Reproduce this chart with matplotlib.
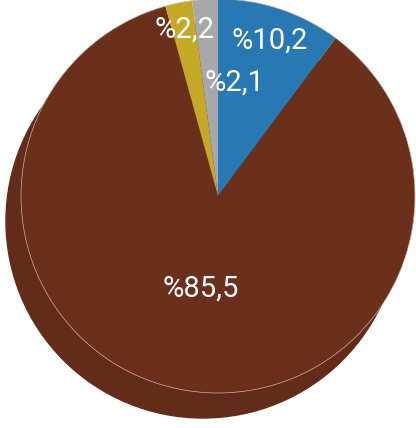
import numpy as np
import matplotlib.pyplot as plt
from matplotlib.patches import Circle

# shares, clockwise from 12 o'clock
labels = ['%10,2', '%85,5', '%2,2', '%2,1']
values = [10.2, 85.5, 2.2, 2.1]
colors = ['#2878b3', '#6b301c', '#c4a826', '#a8a8aa']
label_dist = [0.83, 0.48, 0.86, 0.58]
label_turn = [0, 0, 0, -12]

W, H = 416, 428
cx, cy, r = 218, 196, 197

fig = plt.figure(figsize=(W / 100, H / 100), dpi=100)
ax = fig.add_axes([0, 0, 1, 1])
ax.set_aspect('equal')
ax.axis('off')

# dark base under the pie
ax.add_patch(Circle((-15 / r, -25 / r), 1.0, color='#632c1a', zorder=0))

wedges, _ = ax.pie(values, colors=colors, startangle=90, counterclock=False,
                   radius=1.0, wedgeprops=dict(linewidth=0))
for w in wedges:
    w.set_zorder(1)
ax.add_patch(Circle((0, 0), 1.0, fill=False, edgecolor='#cfb2a5',
                    linewidth=0.5, zorder=2))

for w, lab, d, t in zip(wedges, labels, label_dist, label_turn):
    a = np.deg2rad((w.theta1 + w.theta2) / 2 + t)
    ax.text(d * np.cos(a), d * np.sin(a), lab, color='white', fontsize=21,
            family='Roboto', ha='center', va='center', zorder=3)

ax.set_xlim(-cx / r, (W - cx) / r)
ax.set_ylim(-(H - cy) / r, cy / r)
fig.savefig('out.png', dpi=100)
